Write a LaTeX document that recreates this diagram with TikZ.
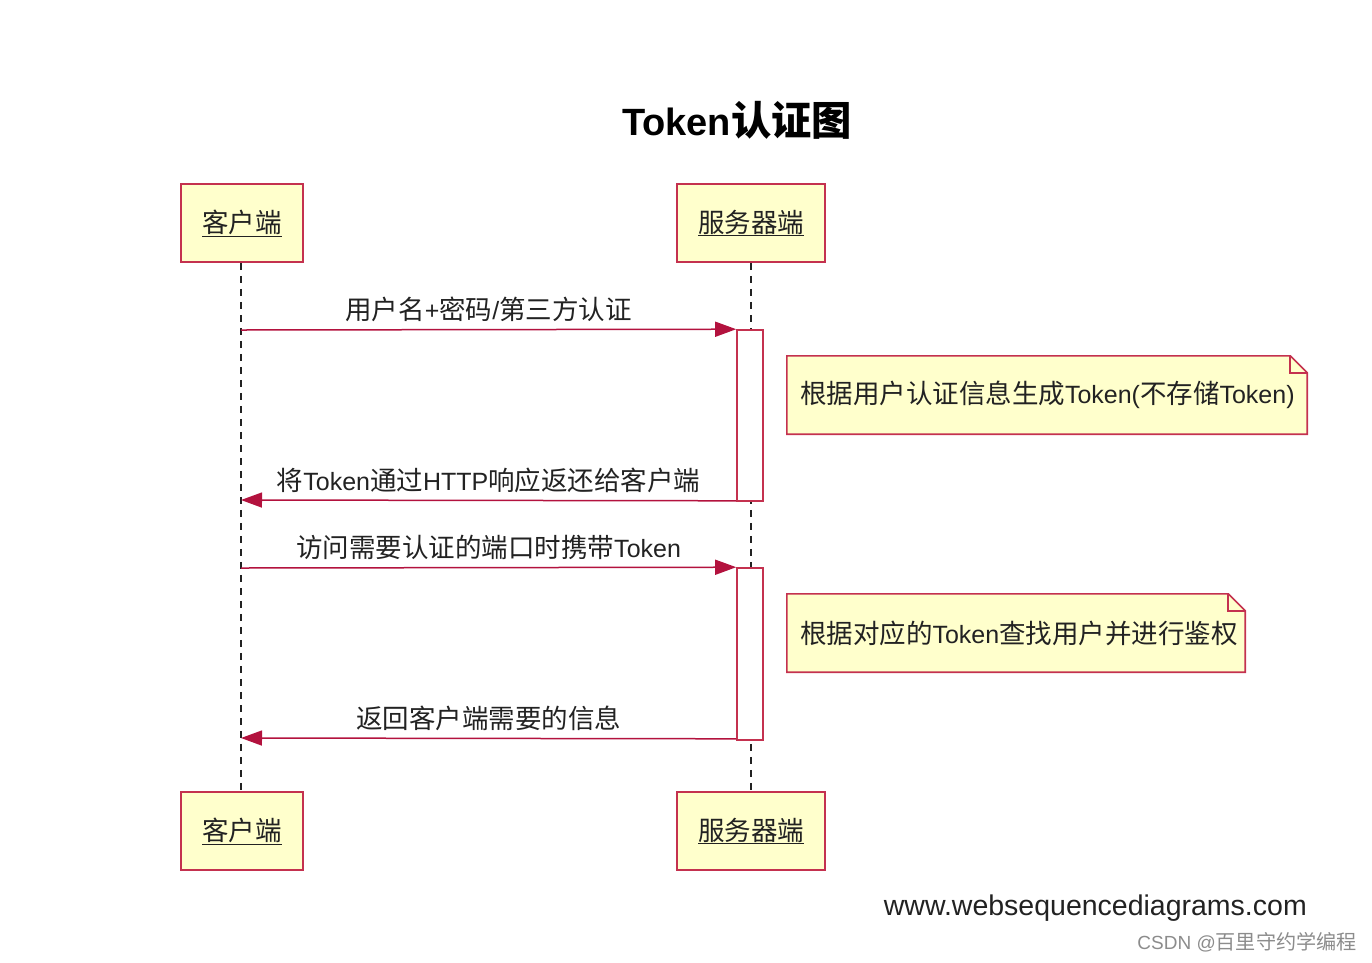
\documentclass[tikz,border=0pt]{standalone}
\usepackage{fontspec}
\setmainfont{Liberation Sans}
\newfontfamily\cjk{Noto Sans CJK SC}[Scale=1.06]
\newcommand\zh[1]{{\cjk #1}}
\usetikzlibrary{arrows.meta}
\pgfdeclarelayer{background}
\pgfsetlayers{background,main}
\definecolor{edgecol}{HTML}{C4314F}
\definecolor{arrcol}{HTML}{B3123E}
\definecolor{paper}{HTML}{FFFFCC}
\definecolor{ink}{HTML}{222222}
\begin{document}
\begin{tikzpicture}[x=1pt,y=-1pt,
  actor/.style={draw=edgecol, line width=1.8pt, fill=paper, minimum height=78pt, inner sep=0pt,
    text=ink, font=\fontsize{25}{30}\selectfont},
  life/.style={draw=ink, line width=1.4pt, dash pattern=on 7pt off 6pt},
  act/.style={draw=edgecol, line width=1.6pt, fill=white, minimum width=26pt, inner sep=0pt},
  msg/.style={draw=arrcol, line width=1.5pt, -{Triangle[length=21pt,width=15pt]}},
  lbl/.style={midway, anchor=base, yshift=10pt, text=ink, font=\fontsize{25}{30}\selectfont},
  notebox/.style={minimum height=78pt, inner xsep=13pt, inner ysep=0pt, align=left,
    text=ink, font=\fontsize{25}{30}\selectfont},
  notedraw/.style={draw=edgecol, line width=1.6pt, fill=paper, line join=miter}
]
\useasboundingbox (0,0) rectangle (1372,962);

% title
\node[text=black, font=\fontsize{38}{44}\selectfont\bfseries] (title) at (737,120) {Token{\cjk 认证图}};

% participants
\node[actor, minimum width=122pt] (c0) at (242,223) {\underline{\zh{客户端}}};
\node[actor, minimum width=148pt] (s0) at (751,223) {\underline{\zh{服务器端}}};
\node[actor, minimum width=122pt] (c1) at (242,831) {\underline{\zh{客户端}}};
\node[actor, minimum width=148pt] (s1) at (751,831) {\underline{\zh{服务器端}}};

% lifelines
\draw[life] ([xshift=-1pt]c0.south) -- ([xshift=-1pt]c1.north);
\draw[life] (s0.south) -- (s1.north);

% activations
\node[act, minimum height=171pt] (a1) at (750,415.5) {};
\node[act, minimum height=172pt] (a2) at (750,654) {};

% lifeline points
\coordinate (p1) at (241,330);
\coordinate (p2) at (241,500);
\coordinate (p3) at (241,568);
\coordinate (p4) at (241,738);

% messages
\draw[msg] (p1) -- (a1.north west) node[lbl] {\zh{用户名}+\zh{密码}/\zh{第三方认证}};
\draw[msg] ([yshift=1pt]a1.south west) -- (p2) node[lbl] {\zh{将}Token\zh{通过}HTTP\zh{响应返还给客户端}};
\draw[msg] (p3) -- (a2.north west) node[lbl] {\zh{访问需要认证的端口时携带}Token};
\draw[msg] ([yshift=2pt]a2.south west) -- (p4) node[lbl] {\zh{返回客户端需要的信息}};

% notes
\node[notebox, text width=494pt] (n1) at (1047,395) {\zh{根据用户认证信息生成}Token(\zh{不存储}Token)};
\node[notebox, text width=432pt] (n2) at (1016,633) {\zh{根据对应的}Token\zh{查找用户并进行鉴权}};
\begin{pgfonlayer}{background}
\foreach \n in {n1,n2}{
  \draw[notedraw] (\n.south west) -- (\n.north west) -- ([xshift=-17pt]\n.north east)
    -- ([yshift=-17pt]\n.north east) -- (\n.south east) -- cycle;
  \draw[notedraw, fill=none] ([xshift=-17pt]\n.north east) |- ([yshift=-17pt]\n.north east);
}
\end{pgfonlayer}

% footer
\node[anchor=base east, inner sep=0pt, text=ink, font=\fontsize{28.5}{32}\selectfont] (web) at (1307,915) {www.websequencediagrams.com};
\node[anchor=base east, inner sep=0pt, text=black!45, font=\fontsize{19}{22}\selectfont] (csdn) at (1357,949) {CSDN @\zh{百里守约学编程}};
\end{tikzpicture}
\end{document}
